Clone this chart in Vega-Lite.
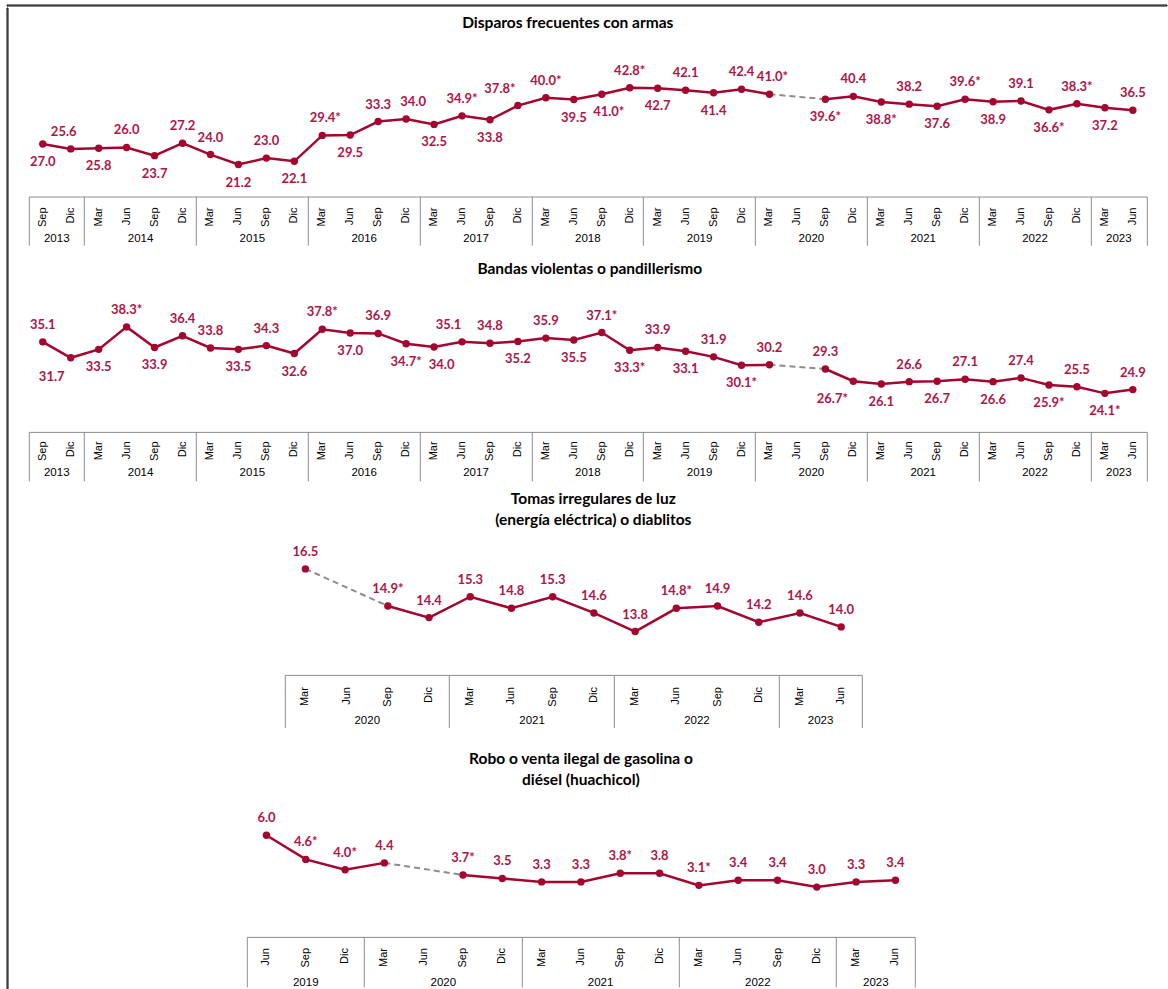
{
  "$schema": "https://vega.github.io/schema/vega-lite/v6.json",
  "background": "white",
  "padding": {"left": 5.5, "top": 3.5, "right": 0, "bottom": 0},
  "config": {"view": {"stroke": null}},
  "datasets": {
    "p1": [
      {"q": "Sep 2013", "v": 27.0, "t": "27.0"}, {"q": "Dic 2013", "v": 25.6, "t": "25.6"},
      {"q": "Mar 2014", "v": 25.8, "t": "25.8"}, {"q": "Jun 2014", "v": 26.0, "t": "26.0"}, {"q": "Sep 2014", "v": 23.7, "t": "23.7"}, {"q": "Dic 2014", "v": 27.2, "t": "27.2"},
      {"q": "Mar 2015", "v": 24.0, "t": "24.0"}, {"q": "Jun 2015", "v": 21.2, "t": "21.2"}, {"q": "Sep 2015", "v": 23.0, "t": "23.0"}, {"q": "Dic 2015", "v": 22.1, "t": "22.1"},
      {"q": "Mar 2016", "v": 29.4, "t": "29.4*"}, {"q": "Jun 2016", "v": 29.5, "t": "29.5"}, {"q": "Sep 2016", "v": 33.3, "t": "33.3"}, {"q": "Dic 2016", "v": 34.0, "t": "34.0"},
      {"q": "Mar 2017", "v": 32.5, "t": "32.5"}, {"q": "Jun 2017", "v": 34.9, "t": "34.9*"}, {"q": "Sep 2017", "v": 33.8, "t": "33.8"}, {"q": "Dic 2017", "v": 37.8, "t": "37.8*"},
      {"q": "Mar 2018", "v": 40.0, "t": "40.0*"}, {"q": "Jun 2018", "v": 39.5, "t": "39.5"}, {"q": "Sep 2018", "v": 41.0, "t": "41.0*"}, {"q": "Dic 2018", "v": 42.8, "t": "42.8*"},
      {"q": "Mar 2019", "v": 42.7, "t": "42.7"}, {"q": "Jun 2019", "v": 42.1, "t": "42.1"}, {"q": "Sep 2019", "v": 41.4, "t": "41.4"}, {"q": "Dic 2019", "v": 42.4, "t": "42.4"},
      {"q": "Mar 2020", "v": 41.0, "t": "41.0*"}, {"q": "Sep 2020", "v": 39.6, "t": "39.6*"}, {"q": "Dic 2020", "v": 40.4, "t": "40.4"},
      {"q": "Mar 2021", "v": 38.8, "t": "38.8*"}, {"q": "Jun 2021", "v": 38.2, "t": "38.2"}, {"q": "Sep 2021", "v": 37.6, "t": "37.6"}, {"q": "Dic 2021", "v": 39.6, "t": "39.6*"},
      {"q": "Mar 2022", "v": 38.9, "t": "38.9"}, {"q": "Jun 2022", "v": 39.1, "t": "39.1"}, {"q": "Sep 2022", "v": 36.6, "t": "36.6*"}, {"q": "Dic 2022", "v": 38.3, "t": "38.3*"},
      {"q": "Mar 2023", "v": 37.2, "t": "37.2"}, {"q": "Jun 2023", "v": 36.5, "t": "36.5"}
    ],
    "p2": [
      {"q": "Sep 2013", "v": 35.1, "t": "35.1"}, {"q": "Dic 2013", "v": 31.7, "t": "31.7"},
      {"q": "Mar 2014", "v": 33.5, "t": "33.5"}, {"q": "Jun 2014", "v": 38.3, "t": "38.3*"}, {"q": "Sep 2014", "v": 33.9, "t": "33.9"}, {"q": "Dic 2014", "v": 36.4, "t": "36.4"},
      {"q": "Mar 2015", "v": 33.8, "t": "33.8"}, {"q": "Jun 2015", "v": 33.5, "t": "33.5"}, {"q": "Sep 2015", "v": 34.3, "t": "34.3"}, {"q": "Dic 2015", "v": 32.6, "t": "32.6"},
      {"q": "Mar 2016", "v": 37.8, "t": "37.8*"}, {"q": "Jun 2016", "v": 37.0, "t": "37.0"}, {"q": "Sep 2016", "v": 36.9, "t": "36.9"}, {"q": "Dic 2016", "v": 34.7, "t": "34.7*"},
      {"q": "Mar 2017", "v": 34.0, "t": "34.0"}, {"q": "Jun 2017", "v": 35.1, "t": "35.1"}, {"q": "Sep 2017", "v": 34.8, "t": "34.8"}, {"q": "Dic 2017", "v": 35.2, "t": "35.2"},
      {"q": "Mar 2018", "v": 35.9, "t": "35.9"}, {"q": "Jun 2018", "v": 35.5, "t": "35.5"}, {"q": "Sep 2018", "v": 37.1, "t": "37.1*"}, {"q": "Dic 2018", "v": 33.3, "t": "33.3*"},
      {"q": "Mar 2019", "v": 33.9, "t": "33.9"}, {"q": "Jun 2019", "v": 33.1, "t": "33.1"}, {"q": "Sep 2019", "v": 31.9, "t": "31.9"}, {"q": "Dic 2019", "v": 30.1, "t": "30.1*"},
      {"q": "Mar 2020", "v": 30.2, "t": "30.2"}, {"q": "Sep 2020", "v": 29.3, "t": "29.3"}, {"q": "Dic 2020", "v": 26.7, "t": "26.7*"},
      {"q": "Mar 2021", "v": 26.1, "t": "26.1"}, {"q": "Jun 2021", "v": 26.6, "t": "26.6"}, {"q": "Sep 2021", "v": 26.7, "t": "26.7"}, {"q": "Dic 2021", "v": 27.1, "t": "27.1"},
      {"q": "Mar 2022", "v": 26.6, "t": "26.6"}, {"q": "Jun 2022", "v": 27.4, "t": "27.4"}, {"q": "Sep 2022", "v": 25.9, "t": "25.9*"}, {"q": "Dic 2022", "v": 25.5, "t": "25.5"},
      {"q": "Mar 2023", "v": 24.1, "t": "24.1*"}, {"q": "Jun 2023", "v": 24.9, "t": "24.9"}
    ],
    "p3": [
      {"q": "Mar 2020", "v": 16.5, "t": "16.5"}, {"q": "Sep 2020", "v": 14.9, "t": "14.9*"}, {"q": "Dic 2020", "v": 14.4, "t": "14.4"},
      {"q": "Mar 2021", "v": 15.3, "t": "15.3"}, {"q": "Jun 2021", "v": 14.8, "t": "14.8"}, {"q": "Sep 2021", "v": 15.3, "t": "15.3"}, {"q": "Dic 2021", "v": 14.6, "t": "14.6"},
      {"q": "Mar 2022", "v": 13.8, "t": "13.8"}, {"q": "Jun 2022", "v": 14.8, "t": "14.8*"}, {"q": "Sep 2022", "v": 14.9, "t": "14.9"}, {"q": "Dic 2022", "v": 14.2, "t": "14.2"},
      {"q": "Mar 2023", "v": 14.6, "t": "14.6"}, {"q": "Jun 2023", "v": 14.0, "t": "14.0"}
    ],
    "p4": [
      {"q": "Jun 2019", "v": 6.0, "t": "6.0"}, {"q": "Sep 2019", "v": 4.6, "t": "4.6*"}, {"q": "Dic 2019", "v": 4.0, "t": "4.0*"},
      {"q": "Mar 2020", "v": 4.4, "t": "4.4"}, {"q": "Sep 2020", "v": 3.7, "t": "3.7*"}, {"q": "Dic 2020", "v": 3.5, "t": "3.5"},
      {"q": "Mar 2021", "v": 3.3, "t": "3.3"}, {"q": "Jun 2021", "v": 3.3, "t": "3.3"}, {"q": "Sep 2021", "v": 3.8, "t": "3.8*"}, {"q": "Dic 2021", "v": 3.8, "t": "3.8"},
      {"q": "Mar 2022", "v": 3.1, "t": "3.1*"}, {"q": "Jun 2022", "v": 3.4, "t": "3.4"}, {"q": "Sep 2022", "v": 3.4, "t": "3.4"}, {"q": "Dic 2022", "v": 3.0, "t": "3.0"},
      {"q": "Mar 2023", "v": 3.3, "t": "3.3"}, {"q": "Jun 2023", "v": 3.4, "t": "3.4"}
    ]
  },
  "vconcat": [
    {
      "width": 1160, "height": 1,
      "view": {"stroke": "#000000", "strokeWidth": 1},
      "data": {"values": []},
      "mark": {"type": "text"},
      "encoding": {"text": {"value": ""}}
    },
    {
      "hconcat": [
        {
          "width": 1, "height": 982,
          "view": {"stroke": "#000000", "strokeWidth": 1},
          "data": {"values": []},
          "mark": {"type": "text"},
          "encoding": {"text": {"value": ""}}
        },
        {
          "vconcat": [
            {
              "width": 1, "height": 7.3,
              "data": {"values": []},
              "mark": {"type": "text"},
              "encoding": {"text": {"value": ""}}
            },
            {
              "data": {"name": "p1"},
              "width": 1118, "height": 150,
              "title": {"text": "Disparos frecuentes con armas", "frame": "group", "anchor": "middle", "baseline": "bottom", "offset": -0.4, "dx": -20, "font": "Lato", "fontSize": 15.5, "fontWeight": "bold", "color": "#000000"},
              "encoding": {
                "x": {"field": "q", "type": "ordinal",
                  "scale": {"type": "band", "paddingInner": 0, "paddingOuter": 0, "domain": ["Sep 2013","Dic 2013","Mar 2014","Jun 2014","Sep 2014","Dic 2014","Mar 2015","Jun 2015","Sep 2015","Dic 2015","Mar 2016","Jun 2016","Sep 2016","Dic 2016","Mar 2017","Jun 2017","Sep 2017","Dic 2017","Mar 2018","Jun 2018","Sep 2018","Dic 2018","Mar 2019","Jun 2019","Sep 2019","Dic 2019","Mar 2020","Jun 2020","Sep 2020","Dic 2020","Mar 2021","Jun 2021","Sep 2021","Dic 2021","Mar 2022","Jun 2022","Sep 2022","Dic 2022","Mar 2023","Jun 2023"]},
                  "axis": null},
                "y": {"field": "v", "type": "quantitative", "scale": {"domain": [12.19, 54.44], "nice": false, "zero": false}, "axis": null}
              },
              "layer": [
                {
                  "transform": [{"filter": "toNumber(split(datum.q,' ')[1]) < 2020 || datum.q == 'Mar 2020'"}],
                  "mark": {"type": "line", "color": "#A3062F", "strokeWidth": 2.5},
                  "encoding": {"x": {"field": "q", "type": "ordinal",
                    "scale": {"type": "band", "paddingInner": 0, "paddingOuter": 0, "domain": ["Sep 2013","Dic 2013","Mar 2014","Jun 2014","Sep 2014","Dic 2014","Mar 2015","Jun 2015","Sep 2015","Dic 2015","Mar 2016","Jun 2016","Sep 2016","Dic 2016","Mar 2017","Jun 2017","Sep 2017","Dic 2017","Mar 2018","Jun 2018","Sep 2018","Dic 2018","Mar 2019","Jun 2019","Sep 2019","Dic 2019","Mar 2020","Jun 2020","Sep 2020","Dic 2020","Mar 2021","Jun 2021","Sep 2021","Dic 2021","Mar 2022","Jun 2022","Sep 2022","Dic 2022","Mar 2023","Jun 2023"]},
                    "axis": {"orient": "bottom", "title": null, "domain": true, "domainColor": "#8c8c8c", "domainWidth": 1, "ticks": false, "tickSize": 0, "grid": false, "labelAngle": -90, "labelAlign": "right", "labelBaseline": "middle", "labelPadding": 10.5, "labelFont": "Liberation Sans Narrow, Liberation Sans", "labelFontSize": 11, "labelColor": "#000000", "labelOverlap": false, "labelBound": false, "labelFlush": false, "labelExpr": "split(datum.value,' ')[0]"}}}
                },
                {
                  "transform": [{"filter": "toNumber(split(datum.q,' ')[1]) > 2020 || datum.q == 'Sep 2020' || datum.q == 'Dic 2020'"}],
                  "mark": {"type": "line", "color": "#A3062F", "strokeWidth": 2.5},
                  "encoding": {"x": {"field": "q", "type": "ordinal",
                    "scale": {"type": "band", "paddingInner": 0, "paddingOuter": 0, "domain": ["Sep 2013","Dic 2013","Mar 2014","Jun 2014","Sep 2014","Dic 2014","Mar 2015","Jun 2015","Sep 2015","Dic 2015","Mar 2016","Jun 2016","Sep 2016","Dic 2016","Mar 2017","Jun 2017","Sep 2017","Dic 2017","Mar 2018","Jun 2018","Sep 2018","Dic 2018","Mar 2019","Jun 2019","Sep 2019","Dic 2019","Mar 2020","Jun 2020","Sep 2020","Dic 2020","Mar 2021","Jun 2021","Sep 2021","Dic 2021","Mar 2022","Jun 2022","Sep 2022","Dic 2022","Mar 2023","Jun 2023"]},
                    "axis": {"orient": "bottom", "title": null, "domain": false, "labels": false, "grid": false, "ticks": true, "tickColor": "#8c8c8c", "tickWidth": 1, "tickSize": 48.7, "bandPosition": 1, "values": ["Jun 2023"]}}}
                },
                {
                  "transform": [{"filter": "datum.q == 'Mar 2020' || datum.q == 'Sep 2020'"}],
                  "mark": {"type": "line", "color": "#8c8c8c", "strokeWidth": 2, "strokeDash": [6, 4]},
                  "encoding": {"x": {"field": "q", "type": "ordinal",
                    "scale": {"type": "band", "paddingInner": 0, "paddingOuter": 0, "domain": ["Sep 2013","Dic 2013","Mar 2014","Jun 2014","Sep 2014","Dic 2014","Mar 2015","Jun 2015","Sep 2015","Dic 2015","Mar 2016","Jun 2016","Sep 2016","Dic 2016","Mar 2017","Jun 2017","Sep 2017","Dic 2017","Mar 2018","Jun 2018","Sep 2018","Dic 2018","Mar 2019","Jun 2019","Sep 2019","Dic 2019","Mar 2020","Jun 2020","Sep 2020","Dic 2020","Mar 2021","Jun 2021","Sep 2021","Dic 2021","Mar 2022","Jun 2022","Sep 2022","Dic 2022","Mar 2023","Jun 2023"]},
                    "axis": {"orient": "bottom", "title": null, "domain": false, "labels": false, "grid": false, "ticks": true, "tickColor": "#8c8c8c", "tickWidth": 1, "tickSize": 48.7, "bandPosition": 0, "values": ["Sep 2013","Mar 2014","Mar 2015","Mar 2016","Mar 2017","Mar 2018","Mar 2019","Mar 2020","Mar 2021","Mar 2022","Mar 2023"]}}}
                },
                {
                  "mark": {"type": "circle", "size": 55, "color": "#A3062F", "opacity": 1}
                },
                {
                  "transform": [{"filter": {"not": {"field": "q", "oneOf": ["Sep 2013","Mar 2014","Sep 2014","Jun 2015","Dic 2015","Jun 2016","Mar 2017","Sep 2017","Jun 2018","Sep 2018","Mar 2019","Sep 2019","Sep 2020","Mar 2021","Sep 2021","Mar 2022","Sep 2022","Mar 2023","Dic 2013","Dic 2017","Dic 2016","Mar 2016","Mar 2020"]}}}],
                  "mark": {"type": "text", "font": "Lato", "fontWeight": "bold", "fontSize": 13, "color": "#AF1545", "baseline": "middle", "dy": -17},
                  "encoding": {
                    "text": {"field": "t"},
                    "x": {"field": "q", "type": "ordinal",
                    "scale": {"type": "band", "paddingInner": 0, "paddingOuter": 0, "domain": ["Sep 2013","Dic 2013","Mar 2014","Jun 2014","Sep 2014","Dic 2014","Mar 2015","Jun 2015","Sep 2015","Dic 2015","Mar 2016","Jun 2016","Sep 2016","Dic 2016","Mar 2017","Jun 2017","Sep 2017","Dic 2017","Mar 2018","Jun 2018","Sep 2018","Dic 2018","Mar 2019","Jun 2019","Sep 2019","Dic 2019","Mar 2020","Jun 2020","Sep 2020","Dic 2020","Mar 2021","Jun 2021","Sep 2021","Dic 2021","Mar 2022","Jun 2022","Sep 2022","Dic 2022","Mar 2023","Jun 2023"]},
                    "axis": {"orient": "bottom", "title": null, "domain": false, "ticks": false, "tickSize": 0, "grid": false, "bandPosition": 0, "values": ["Dic 2013","Sep 2014","Sep 2015","Sep 2016","Sep 2017","Sep 2018","Sep 2019","Sep 2020","Sep 2021","Sep 2022","Jun 2023"], "labelAngle": 0, "labelAlign": "center", "labelBaseline": "middle", "labelPadding": 42.4, "labelOffset": -13.98, "labelFont": "Liberation Sans Narrow, Liberation Sans", "labelFontSize": 11.5, "labelColor": "#000000", "labelOverlap": false, "labelBound": false, "labelFlush": false, "labelExpr": "split(datum.value,' ')[1]", "minExtent": 64.3, "maxExtent": 64.3}}
                  }
                },
                {
                  "transform": [{"filter": {"field": "q", "oneOf": ["Sep 2013","Mar 2014","Sep 2014","Jun 2015","Dic 2015","Jun 2016","Mar 2017","Sep 2017","Jun 2018","Mar 2019","Sep 2019","Sep 2020","Mar 2021","Sep 2021","Mar 2022","Sep 2022","Mar 2023"]}}],
                  "mark": {"type": "text", "font": "Lato", "fontWeight": "bold", "fontSize": 13, "color": "#AF1545", "baseline": "middle", "dy": 18},
                  "encoding": {"text": {"field": "t"}}
                },
                {
                  "transform": [{"filter": {"field": "q", "oneOf": ["Sep 2018"]}}],
                  "mark": {"type": "text", "font": "Lato", "fontWeight": "bold", "fontSize": 13, "color": "#AF1545", "baseline": "middle", "dy": 18, "dx": 7},
                  "encoding": {"text": {"field": "t"}}
                },
                {
                  "transform": [{"filter": {"field": "q", "oneOf": ["Dic 2013"]}}],
                  "mark": {"type": "text", "font": "Lato", "fontWeight": "bold", "fontSize": 13, "color": "#AF1545", "baseline": "middle", "dy": -17, "dx": -7},
                  "encoding": {"text": {"field": "t"}}
                },
                {
                  "transform": [{"filter": {"field": "q", "oneOf": ["Dic 2017"]}}],
                  "mark": {"type": "text", "font": "Lato", "fontWeight": "bold", "fontSize": 13, "color": "#AF1545", "baseline": "middle", "dy": -17, "dx": -18},
                  "encoding": {"text": {"field": "t"}}
                },
                {
                  "transform": [{"filter": {"field": "q", "oneOf": ["Dic 2016"]}}],
                  "mark": {"type": "text", "font": "Lato", "fontWeight": "bold", "fontSize": 13, "color": "#AF1545", "baseline": "middle", "dy": -17, "dx": 7},
                  "encoding": {"text": {"field": "t"}}
                },
                {
                  "transform": [{"filter": {"field": "q", "oneOf": ["Mar 2016", "Mar 2020"]}}],
                  "mark": {"type": "text", "font": "Lato", "fontWeight": "bold", "fontSize": 13, "color": "#AF1545", "baseline": "middle", "dy": -17, "dx": 3},
                  "encoding": {"text": {"field": "t"}}
                }
              ],
              "resolve": {"axis": {"x": "independent"}}
            },
            {
              "data": {"name": "p2"},
              "width": 1118, "height": 139.4,
              "title": {"text": "Bandas violentas o pandillerismo", "frame": "group", "anchor": "middle", "baseline": "bottom", "offset": -0.4, "dx": 2, "font": "Lato", "fontSize": 15.5, "fontWeight": "bold", "color": "#000000"},
              "encoding": {
                "x": {"field": "q", "type": "ordinal",
                  "scale": {"type": "band", "paddingInner": 0, "paddingOuter": 0, "domain": ["Sep 2013","Dic 2013","Mar 2014","Jun 2014","Sep 2014","Dic 2014","Mar 2015","Jun 2015","Sep 2015","Dic 2015","Mar 2016","Jun 2016","Sep 2016","Dic 2016","Mar 2017","Jun 2017","Sep 2017","Dic 2017","Mar 2018","Jun 2018","Sep 2018","Dic 2018","Mar 2019","Jun 2019","Sep 2019","Dic 2019","Mar 2020","Jun 2020","Sep 2020","Dic 2020","Mar 2021","Jun 2021","Sep 2021","Dic 2021","Mar 2022","Jun 2022","Sep 2022","Dic 2022","Mar 2023","Jun 2023"]},
                  "axis": null},
                "y": {"field": "v", "type": "quantitative", "scale": {"domain": [15.86, 45.65], "nice": false, "zero": false}, "axis": null}
              },
              "layer": [
                {
                  "transform": [{"filter": "toNumber(split(datum.q,' ')[1]) < 2020 || datum.q == 'Mar 2020'"}],
                  "mark": {"type": "line", "color": "#A3062F", "strokeWidth": 2.5},
                  "encoding": {"x": {"field": "q", "type": "ordinal",
                    "scale": {"type": "band", "paddingInner": 0, "paddingOuter": 0, "domain": ["Sep 2013","Dic 2013","Mar 2014","Jun 2014","Sep 2014","Dic 2014","Mar 2015","Jun 2015","Sep 2015","Dic 2015","Mar 2016","Jun 2016","Sep 2016","Dic 2016","Mar 2017","Jun 2017","Sep 2017","Dic 2017","Mar 2018","Jun 2018","Sep 2018","Dic 2018","Mar 2019","Jun 2019","Sep 2019","Dic 2019","Mar 2020","Jun 2020","Sep 2020","Dic 2020","Mar 2021","Jun 2021","Sep 2021","Dic 2021","Mar 2022","Jun 2022","Sep 2022","Dic 2022","Mar 2023","Jun 2023"]},
                    "axis": {"orient": "bottom", "title": null, "domain": true, "domainColor": "#8c8c8c", "domainWidth": 1, "ticks": false, "tickSize": 0, "grid": false, "labelAngle": -90, "labelAlign": "right", "labelBaseline": "middle", "labelPadding": 9, "labelFont": "Liberation Sans Narrow, Liberation Sans", "labelFontSize": 11, "labelColor": "#000000", "labelOverlap": false, "labelBound": false, "labelFlush": false, "labelExpr": "split(datum.value,' ')[0]"}}}
                },
                {
                  "transform": [{"filter": "toNumber(split(datum.q,' ')[1]) > 2020 || datum.q == 'Sep 2020' || datum.q == 'Dic 2020'"}],
                  "mark": {"type": "line", "color": "#A3062F", "strokeWidth": 2.5},
                  "encoding": {"x": {"field": "q", "type": "ordinal",
                    "scale": {"type": "band", "paddingInner": 0, "paddingOuter": 0, "domain": ["Sep 2013","Dic 2013","Mar 2014","Jun 2014","Sep 2014","Dic 2014","Mar 2015","Jun 2015","Sep 2015","Dic 2015","Mar 2016","Jun 2016","Sep 2016","Dic 2016","Mar 2017","Jun 2017","Sep 2017","Dic 2017","Mar 2018","Jun 2018","Sep 2018","Dic 2018","Mar 2019","Jun 2019","Sep 2019","Dic 2019","Mar 2020","Jun 2020","Sep 2020","Dic 2020","Mar 2021","Jun 2021","Sep 2021","Dic 2021","Mar 2022","Jun 2022","Sep 2022","Dic 2022","Mar 2023","Jun 2023"]},
                    "axis": {"orient": "bottom", "title": null, "domain": false, "labels": false, "grid": false, "ticks": true, "tickColor": "#8c8c8c", "tickWidth": 1, "tickSize": 49, "bandPosition": 1, "values": ["Jun 2023"]}}}
                },
                {
                  "transform": [{"filter": "datum.q == 'Mar 2020' || datum.q == 'Sep 2020'"}],
                  "mark": {"type": "line", "color": "#8c8c8c", "strokeWidth": 2, "strokeDash": [6, 4]},
                  "encoding": {"x": {"field": "q", "type": "ordinal",
                    "scale": {"type": "band", "paddingInner": 0, "paddingOuter": 0, "domain": ["Sep 2013","Dic 2013","Mar 2014","Jun 2014","Sep 2014","Dic 2014","Mar 2015","Jun 2015","Sep 2015","Dic 2015","Mar 2016","Jun 2016","Sep 2016","Dic 2016","Mar 2017","Jun 2017","Sep 2017","Dic 2017","Mar 2018","Jun 2018","Sep 2018","Dic 2018","Mar 2019","Jun 2019","Sep 2019","Dic 2019","Mar 2020","Jun 2020","Sep 2020","Dic 2020","Mar 2021","Jun 2021","Sep 2021","Dic 2021","Mar 2022","Jun 2022","Sep 2022","Dic 2022","Mar 2023","Jun 2023"]},
                    "axis": {"orient": "bottom", "title": null, "domain": false, "labels": false, "grid": false, "ticks": true, "tickColor": "#8c8c8c", "tickWidth": 1, "tickSize": 49, "bandPosition": 0, "values": ["Sep 2013","Mar 2014","Mar 2015","Mar 2016","Mar 2017","Mar 2018","Mar 2019","Mar 2020","Mar 2021","Mar 2022","Mar 2023"]}}}
                },
                {
                  "mark": {"type": "circle", "size": 55, "color": "#A3062F", "opacity": 1}
                },
                {
                  "transform": [{"filter": {"not": {"field": "q", "oneOf": ["Dic 2013","Mar 2014","Sep 2014","Jun 2015","Dic 2015","Jun 2016","Dic 2016","Mar 2017","Dic 2017","Jun 2018","Dic 2018","Jun 2019","Dic 2019","Dic 2020","Mar 2021","Sep 2021","Mar 2022","Sep 2022","Mar 2023","Jun 2017"]}}}],
                  "mark": {"type": "text", "font": "Lato", "fontWeight": "bold", "fontSize": 13, "color": "#AF1545", "baseline": "middle", "dy": -17},
                  "encoding": {
                    "text": {"field": "t"},
                    "x": {"field": "q", "type": "ordinal",
                    "scale": {"type": "band", "paddingInner": 0, "paddingOuter": 0, "domain": ["Sep 2013","Dic 2013","Mar 2014","Jun 2014","Sep 2014","Dic 2014","Mar 2015","Jun 2015","Sep 2015","Dic 2015","Mar 2016","Jun 2016","Sep 2016","Dic 2016","Mar 2017","Jun 2017","Sep 2017","Dic 2017","Mar 2018","Jun 2018","Sep 2018","Dic 2018","Mar 2019","Jun 2019","Sep 2019","Dic 2019","Mar 2020","Jun 2020","Sep 2020","Dic 2020","Mar 2021","Jun 2021","Sep 2021","Dic 2021","Mar 2022","Jun 2022","Sep 2022","Dic 2022","Mar 2023","Jun 2023"]},
                    "axis": {"orient": "bottom", "title": null, "domain": false, "ticks": false, "tickSize": 0, "grid": false, "bandPosition": 0, "values": ["Dic 2013","Sep 2014","Sep 2015","Sep 2016","Sep 2017","Sep 2018","Sep 2019","Sep 2020","Sep 2021","Sep 2022","Jun 2023"], "labelAngle": 0, "labelAlign": "center", "labelBaseline": "middle", "labelPadding": 40.7, "labelOffset": -13.98, "labelFont": "Liberation Sans Narrow, Liberation Sans", "labelFontSize": 11.5, "labelColor": "#000000", "labelOverlap": false, "labelBound": false, "labelFlush": false, "labelExpr": "split(datum.value,' ')[1]", "minExtent": 59.5, "maxExtent": 59.5}}
                  }
                },
                {
                  "transform": [{"filter": {"field": "q", "oneOf": ["Mar 2014","Sep 2014","Jun 2015","Dic 2015","Jun 2016","Dic 2016","Dic 2017","Jun 2018","Dic 2018","Jun 2019","Dic 2019","Mar 2021","Sep 2021","Mar 2022","Sep 2022","Mar 2023"]}}],
                  "mark": {"type": "text", "font": "Lato", "fontWeight": "bold", "fontSize": 13, "color": "#AF1545", "baseline": "middle", "dy": 18},
                  "encoding": {"text": {"field": "t"}}
                },
                {
                  "transform": [{"filter": {"field": "q", "oneOf": ["Dic 2013"]}}],
                  "mark": {"type": "text", "font": "Lato", "fontWeight": "bold", "fontSize": 13, "color": "#AF1545", "baseline": "middle", "dy": 19, "dx": -19},
                  "encoding": {"text": {"field": "t"}}
                },
                {
                  "transform": [{"filter": {"field": "q", "oneOf": ["Mar 2017"]}}],
                  "mark": {"type": "text", "font": "Lato", "fontWeight": "bold", "fontSize": 13, "color": "#AF1545", "baseline": "middle", "dy": 18, "dx": 7.5},
                  "encoding": {"text": {"field": "t"}}
                },
                {
                  "transform": [{"filter": {"field": "q", "oneOf": ["Dic 2020"]}}],
                  "mark": {"type": "text", "font": "Lato", "fontWeight": "bold", "fontSize": 13, "color": "#AF1545", "baseline": "middle", "dy": 18, "dx": -21},
                  "encoding": {"text": {"field": "t"}}
                },
                {
                  "transform": [{"filter": {"field": "q", "oneOf": ["Jun 2017"]}}],
                  "mark": {"type": "text", "font": "Lato", "fontWeight": "bold", "fontSize": 13, "color": "#AF1545", "baseline": "middle", "dy": -17, "dx": -13.5},
                  "encoding": {"text": {"field": "t"}}
                }
              ],
              "resolve": {"axis": {"x": "independent"}}
            },
            {
              "hconcat": [
                {
                  "width": 254.8, "height": 1,
                  "data": {"values": []},
                  "mark": {"type": "text"},
                  "encoding": {"text": {"value": ""}}
                },
                {
                  "data": {"name": "p3"},
                  "width": 577, "height": 132.4,
                  "title": {"text": ["Tomas irregulares de luz", "(energía eléctrica) o diablitos"], "frame": "group", "anchor": "middle", "baseline": "bottom", "offset": -1.0, "dx": 20, "lineHeight": 20.6, "font": "Lato", "fontSize": 15.5, "fontWeight": "bold", "color": "#000000"},
                  "encoding": {
                    "x": {"field": "q", "type": "ordinal",
                      "scale": {"type": "band", "paddingInner": 0, "paddingOuter": 0, "domain": ["Mar 2020","Jun 2020","Sep 2020","Dic 2020","Mar 2021","Jun 2021","Sep 2021","Dic 2021","Mar 2022","Jun 2022","Sep 2022","Dic 2022","Mar 2023","Jun 2023"]},
                      "axis": null},
                    "y": {"field": "v", "type": "quantitative", "scale": {"domain": [11.93, 17.637], "nice": false, "zero": false}, "axis": null}
                  },
                  "layer": [
                    {
                      "transform": [{"filter": "toNumber(split(datum.q,' ')[1]) < 2020 || datum.q == 'Mar 2020'"}],
                      "mark": {"type": "line", "color": "#A3062F", "strokeWidth": 2.5},
                      "encoding": {"x": {"field": "q", "type": "ordinal",
                        "scale": {"type": "band", "paddingInner": 0, "paddingOuter": 0, "domain": ["Mar 2020","Jun 2020","Sep 2020","Dic 2020","Mar 2021","Jun 2021","Sep 2021","Dic 2021","Mar 2022","Jun 2022","Sep 2022","Dic 2022","Mar 2023","Jun 2023"]},
                        "axis": {"orient": "bottom", "title": null, "domain": true, "domainColor": "#8c8c8c", "domainWidth": 1, "ticks": false, "tickSize": 0, "grid": false, "labelAngle": -90, "labelAlign": "right", "labelBaseline": "middle", "labelPadding": 11.7, "labelFont": "Liberation Sans Narrow, Liberation Sans", "labelFontSize": 11, "labelColor": "#000000", "labelOverlap": false, "labelBound": false, "labelFlush": false, "labelExpr": "split(datum.value,' ')[0]"}}}
                    },
                    {
                      "transform": [{"filter": "toNumber(split(datum.q,' ')[1]) > 2020 || datum.q == 'Sep 2020' || datum.q == 'Dic 2020'"}],
                      "mark": {"type": "line", "color": "#A3062F", "strokeWidth": 2.5},
                      "encoding": {"x": {"field": "q", "type": "ordinal",
                        "scale": {"type": "band", "paddingInner": 0, "paddingOuter": 0, "domain": ["Mar 2020","Jun 2020","Sep 2020","Dic 2020","Mar 2021","Jun 2021","Sep 2021","Dic 2021","Mar 2022","Jun 2022","Sep 2022","Dic 2022","Mar 2023","Jun 2023"]},
                        "axis": {"orient": "bottom", "title": null, "domain": false, "labels": false, "grid": false, "ticks": true, "tickColor": "#8c8c8c", "tickWidth": 1, "tickSize": 52.7, "bandPosition": 1, "values": ["Jun 2023"]}}}
                    },
                    {
                      "transform": [{"filter": "datum.q == 'Mar 2020' || datum.q == 'Sep 2020'"}],
                      "mark": {"type": "line", "color": "#8c8c8c", "strokeWidth": 2, "strokeDash": [6, 4]},
                      "encoding": {"x": {"field": "q", "type": "ordinal",
                        "scale": {"type": "band", "paddingInner": 0, "paddingOuter": 0, "domain": ["Mar 2020","Jun 2020","Sep 2020","Dic 2020","Mar 2021","Jun 2021","Sep 2021","Dic 2021","Mar 2022","Jun 2022","Sep 2022","Dic 2022","Mar 2023","Jun 2023"]},
                        "axis": {"orient": "bottom", "title": null, "domain": false, "labels": false, "grid": false, "ticks": true, "tickColor": "#8c8c8c", "tickWidth": 1, "tickSize": 52.7, "bandPosition": 0, "values": ["Mar 2020","Mar 2021","Mar 2022","Mar 2023"]}}}
                    },
                    {
                      "mark": {"type": "circle", "size": 55, "color": "#A3062F", "opacity": 1}
                    },
                    {
                      "mark": {"type": "text", "font": "Lato", "fontWeight": "bold", "fontSize": 13, "color": "#AF1545", "baseline": "middle", "dy": -17},
                      "encoding": {
                        "text": {"field": "t"},
                        "x": {"field": "q", "type": "ordinal",
                        "scale": {"type": "band", "paddingInner": 0, "paddingOuter": 0, "domain": ["Mar 2020","Jun 2020","Sep 2020","Dic 2020","Mar 2021","Jun 2021","Sep 2021","Dic 2021","Mar 2022","Jun 2022","Sep 2022","Dic 2022","Mar 2023","Jun 2023"]},
                        "axis": {"orient": "bottom", "title": null, "domain": false, "ticks": false, "tickSize": 0, "grid": false, "bandPosition": 0, "values": ["Sep 2020","Sep 2021","Sep 2022","Jun 2023"], "labelAngle": 0, "labelAlign": "center", "labelBaseline": "middle", "labelPadding": 46, "labelOffset": -20.6, "labelFont": "Liberation Sans Narrow, Liberation Sans", "labelFontSize": 11.5, "labelColor": "#000000", "labelOverlap": false, "labelBound": false, "labelFlush": false, "labelExpr": "split(datum.value,' ')[1]", "minExtent": 76.5, "maxExtent": 76.5}}
                      }
                    }
                  ],
                  "resolve": {"axis": {"x": "independent"}}
                }
              ],
              "spacing": 0
            },
            {
              "hconcat": [
                {
                  "width": 216.2, "height": 1,
                  "data": {"values": []},
                  "mark": {"type": "text"},
                  "encoding": {"text": {"value": ""}}
                },
                {
                  "data": {"name": "p4"},
                  "width": 668.3, "height": 134.4,
                  "title": {"text": ["Robo o venta ilegal de gasolina o", "diésel (huachicol)"], "frame": "group", "anchor": "middle", "baseline": "bottom", "offset": -1.0, "lineHeight": 20.6, "font": "Lato", "fontSize": 15.5, "fontWeight": "bold", "color": "#000000"},
                  "encoding": {
                    "x": {"field": "q", "type": "ordinal",
                      "scale": {"type": "band", "paddingInner": 0, "paddingOuter": 0, "domain": ["Jun 2019","Sep 2019","Dic 2019","Mar 2020","Jun 2020","Sep 2020","Dic 2020","Mar 2021","Jun 2021","Sep 2021","Dic 2021","Mar 2022","Jun 2022","Sep 2022","Dic 2022","Mar 2023","Jun 2023"]},
                      "axis": null},
                    "y": {"field": "v", "type": "quantitative", "scale": {"domain": [0.121, 7.89], "nice": false, "zero": false}, "axis": null}
                  },
                  "layer": [
                    {
                      "transform": [{"filter": "toNumber(split(datum.q,' ')[1]) < 2020 || datum.q == 'Mar 2020'"}],
                      "mark": {"type": "line", "color": "#A3062F", "strokeWidth": 2.5},
                      "encoding": {"x": {"field": "q", "type": "ordinal",
                        "scale": {"type": "band", "paddingInner": 0, "paddingOuter": 0, "domain": ["Jun 2019","Sep 2019","Dic 2019","Mar 2020","Jun 2020","Sep 2020","Dic 2020","Mar 2021","Jun 2021","Sep 2021","Dic 2021","Mar 2022","Jun 2022","Sep 2022","Dic 2022","Mar 2023","Jun 2023"]},
                        "axis": {"orient": "bottom", "title": null, "domain": true, "domainColor": "#8c8c8c", "domainWidth": 1, "ticks": false, "tickSize": 0, "grid": false, "labelAngle": -90, "labelAlign": "right", "labelBaseline": "middle", "labelPadding": 10.6, "labelFont": "Liberation Sans Narrow, Liberation Sans", "labelFontSize": 11, "labelColor": "#000000", "labelOverlap": false, "labelBound": false, "labelFlush": false, "labelExpr": "split(datum.value,' ')[0]"}}}
                    },
                    {
                      "transform": [{"filter": "toNumber(split(datum.q,' ')[1]) > 2020 || datum.q == 'Sep 2020' || datum.q == 'Dic 2020'"}],
                      "mark": {"type": "line", "color": "#A3062F", "strokeWidth": 2.5},
                      "encoding": {"x": {"field": "q", "type": "ordinal",
                        "scale": {"type": "band", "paddingInner": 0, "paddingOuter": 0, "domain": ["Jun 2019","Sep 2019","Dic 2019","Mar 2020","Jun 2020","Sep 2020","Dic 2020","Mar 2021","Jun 2021","Sep 2021","Dic 2021","Mar 2022","Jun 2022","Sep 2022","Dic 2022","Mar 2023","Jun 2023"]},
                        "axis": {"orient": "bottom", "title": null, "domain": false, "labels": false, "grid": false, "ticks": true, "tickColor": "#8c8c8c", "tickWidth": 1, "tickSize": 50, "bandPosition": 1, "values": ["Jun 2023"]}}}
                    },
                    {
                      "transform": [{"filter": "datum.q == 'Mar 2020' || datum.q == 'Sep 2020'"}],
                      "mark": {"type": "line", "color": "#8c8c8c", "strokeWidth": 2, "strokeDash": [6, 4]},
                      "encoding": {"x": {"field": "q", "type": "ordinal",
                        "scale": {"type": "band", "paddingInner": 0, "paddingOuter": 0, "domain": ["Jun 2019","Sep 2019","Dic 2019","Mar 2020","Jun 2020","Sep 2020","Dic 2020","Mar 2021","Jun 2021","Sep 2021","Dic 2021","Mar 2022","Jun 2022","Sep 2022","Dic 2022","Mar 2023","Jun 2023"]},
                        "axis": {"orient": "bottom", "title": null, "domain": false, "labels": false, "grid": false, "ticks": true, "tickColor": "#8c8c8c", "tickWidth": 1, "tickSize": 50, "bandPosition": 0, "values": ["Jun 2019","Mar 2020","Mar 2021","Mar 2022","Mar 2023"]}}}
                    },
                    {
                      "mark": {"type": "circle", "size": 55, "color": "#A3062F", "opacity": 1},
                      "encoding": {"x": {"field": "q", "type": "ordinal",
                        "scale": {"type": "band", "paddingInner": 0, "paddingOuter": 0, "domain": ["Jun 2019","Sep 2019","Dic 2019","Mar 2020","Jun 2020","Sep 2020","Dic 2020","Mar 2021","Jun 2021","Sep 2021","Dic 2021","Mar 2022","Jun 2022","Sep 2022","Dic 2022","Mar 2023","Jun 2023"]},
                        "axis": {"orient": "bottom", "title": null, "domain": false, "ticks": false, "tickSize": 0, "grid": false, "bandPosition": 0.5, "values": ["Sep 2019"], "labelAngle": 0, "labelAlign": "center", "labelBaseline": "middle", "labelPadding": 45.6, "labelFont": "Liberation Sans Narrow, Liberation Sans", "labelFontSize": 11.5, "labelColor": "#000000", "labelOverlap": false, "labelBound": false, "labelFlush": false, "labelExpr": "split(datum.value,' ')[1]"}}}
                    },
                    {
                      "mark": {"type": "text", "font": "Lato", "fontWeight": "bold", "fontSize": 13, "color": "#AF1545", "baseline": "middle", "dy": -17},
                      "encoding": {
                        "text": {"field": "t"},
                        "x": {"field": "q", "type": "ordinal",
                        "scale": {"type": "band", "paddingInner": 0, "paddingOuter": 0, "domain": ["Jun 2019","Sep 2019","Dic 2019","Mar 2020","Jun 2020","Sep 2020","Dic 2020","Mar 2021","Jun 2021","Sep 2021","Dic 2021","Mar 2022","Jun 2022","Sep 2022","Dic 2022","Mar 2023","Jun 2023"]},
                        "axis": {"orient": "bottom", "title": null, "domain": false, "ticks": false, "tickSize": 0, "grid": false, "bandPosition": 0, "values": ["Sep 2020","Sep 2021","Sep 2022","Jun 2023"], "labelAngle": 0, "labelAlign": "center", "labelBaseline": "middle", "labelPadding": 45.6, "labelOffset": -19.65, "labelFont": "Liberation Sans Narrow, Liberation Sans", "labelFontSize": 11.5, "labelColor": "#000000", "labelOverlap": false, "labelBound": false, "labelFlush": false, "labelExpr": "split(datum.value,' ')[1]"}}
                      }
                    }
                  ],
                  "resolve": {"axis": {"x": "independent"}}
                }
              ],
              "spacing": 0
            }
          ],
          "spacing": 0
        }
      ],
      "spacing": 19.3
    }
  ],
  "spacing": 0
}
